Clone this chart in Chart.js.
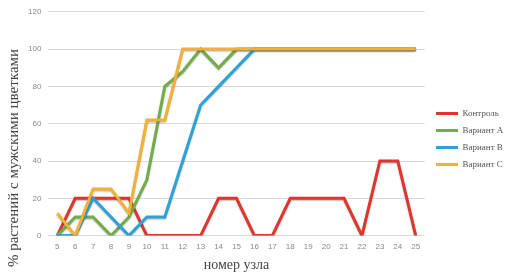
<!DOCTYPE html>
<html><head><meta charset="utf-8">
<script src="https://cdn.jsdelivr.net/npm/chart.js@4/dist/chart.umd.min.js"></script>
<style>html,body{margin:0;padding:0;background:#fff}#w{width:505px;height:273px;position:relative}</style>
</head><body><div id="w"><canvas id="c"></canvas></div>
<script>
const nodes = ['5','6','7','8','9','10','11','12','13','14','15','16','17','18','19','20','21','22','23','24','25'];
const control = [0,20,20,20,20,0,0,0,0,20,20,0,0,20,20,20,20,0,40,40,0];
const variantA = [0,10,10,0,10,30,80,88,100,90,100,100,100,100,100,100,100,100,100,100,100];
const variantB = [0,0,20,10,0,10,10,40,70,80,90,100,100,100,100,100,100,100,100,100,100];
const variantC = [12,0,25,25,12,62,62,100,100,100,100,100,100,100,100,100,100,100,100,100,100];
const yTicks = [0,20,40,60,80,100,120];
const seriesNames = ['Контроль','Вариант А','Вариант В','Вариант С'];
const yTitle = '% растений с мужскими цветками';
const xTitle = 'номер узла';
const colors = ['#e0352c','#72ad4a','#2ea2d8','#f2b134'];
const vals = [control, variantA, variantB, variantC];
const serif = "'Liberation Serif', 'DejaVu Serif', serif";

const tweaks = {
  id: 'tweaks',
  afterLayout(chart) {
    const lg = chart.legend;
    const dx = 436 - 8 - lg.left;
    lg.left += dx; lg.right += dx;
    lg.top += 3; lg.bottom += 3;
  },
  beforeDatasetsDraw(chart) {
    const ctx = chart.ctx;
    ctx.save();
    ctx.shadowColor = 'rgba(0,0,0,0.3)';
    ctx.shadowBlur = 1.5;
    ctx.shadowOffsetY = 1;
  },
  afterDatasetsDraw(chart) { chart.ctx.restore(); },
  afterDraw(chart) {
    const ctx = chart.ctx;
    ctx.save();
    ctx.translate(14, 158);
    ctx.rotate(-Math.PI / 2);
    ctx.font = "15px " + serif;
    ctx.fillStyle = '#444';
    ctx.textAlign = 'center';
    ctx.textBaseline = 'middle';
    ctx.fillText(yTitle, 0, 0);
    ctx.restore();
  }
};

new Chart(document.getElementById('c'), {
  type: 'line',
  data: {
    labels: nodes,
    datasets: vals.map((v,i)=>({
      label: seriesNames[i], data: v, borderColor: colors[i], backgroundColor: colors[i],
      borderWidth: 3, pointRadius: 0, pointHoverRadius: 0, tension: 0, order: 4 - i, fill: false
    }))
  },
  options: {
    responsive: true, maintainAspectRatio: false, animation: false,
    layout: { autoPadding: false, padding: { top: -2, right: -5, left: 21, bottom: -1 } },
    plugins: {
      tooltip: { enabled: false },
      legend: {
        position: 'right',
        labels: {
          usePointStyle: true, pointStyle: 'line', pointStyleWidth: 22, boxHeight: 9,
          color: '#555', font: { family: serif, size: 9 }, padding: 8,
          sort: (a,b) => a.datasetIndex - b.datasetIndex
        }
      }
    },
    scales: {
      x: {
        offset: true,
        grid: { display: false, drawTicks: false, tickLength: 0 },
        border: { display: false },
        ticks: { color: '#888', font: { family: "'Liberation Sans', sans-serif", size: 8 }, padding: 6, maxRotation: 0, autoSkip: false },
        title: { display: true, text: xTitle, color: '#444', font: { family: serif, size: 14 }, padding: { top: 0, bottom: 0 } }
      },
      y: {
        min: 0, max: 120,
        afterBuildTicks: ax => { ax.ticks = yTicks.map(v => ({ value: v })); },
        grid: { color: '#d9d9d9', lineWidth: 1 , drawTicks: false},
        border: { display: false },
        ticks: { color: '#888', font: { family: "'Liberation Sans', sans-serif", size: 8 }, padding: 7 }
      }
    }
  },
  plugins: [tweaks]
});
</script></body></html>
